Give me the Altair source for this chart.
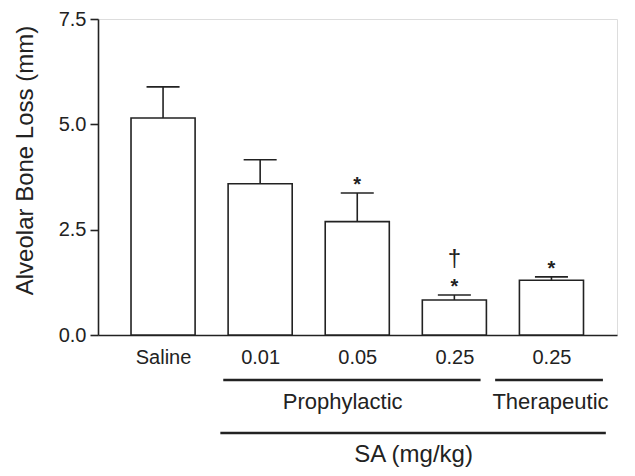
import altair as alt
import pandas as pd

groups = ["Saline", "0.01", "0.05", "0.25", "0.25 "]
positions = [0, 1, 2, 3, 4]
means = [5.15, 3.59, 2.69, 0.83, 1.30]
err_tops = [5.89, 4.16, 3.37, 0.95, 1.38]
stars = ["", "", "*", "*", "*"]
daggers = ["", "", "", "\u2020", ""]

bracket_labels = ["Prophylactic", "Therapeutic", "SA (mg/kg)"]
bracket_start = [0.62, 3.42, 0.59]
bracket_end = [3.27, 4.53, 4.56]
bracket_center = [1.85, 3.99, 2.58]
bracket_row = [1, 1, 2]

df = pd.DataFrame({"group": groups, "pos": positions, "mean": means,
                   "err": err_tops, "star": stars, "dagger": daggers})
br = pd.DataFrame({"label": bracket_labels, "start": bracket_start,
                   "end": bracket_end, "center": bracket_center, "row": bracket_row})

FONT = "Liberation Sans"
INK = "#222222"
xscale = alt.Scale(domain=[-0.67, 4.675], nice=False, zero=False)
yscale = alt.Scale(domain=[0, 7.5], nice=False)

label_expr = "['Saline','0.01','0.05','0.25','0.25'][datum.value]"

base = alt.Chart(df).transform_calculate(
    x0="datum.pos - 0.33", x1="datum.pos + 0.33",
    c0="datum.pos - 0.17", c1="datum.pos + 0.17")

bars = base.mark_bar(fill="white", stroke=INK, strokeWidth=1.6).encode(
    x=alt.X("x0:Q", scale=xscale,
            axis=alt.Axis(values=positions, labelExpr=label_expr, ticks=False,
                          grid=False, title=None, labelFontSize=20, labelFont=FONT,
                          labelColor=INK, labelPadding=12, domainColor=INK,
                          domainWidth=1.6, labelFlush=False)),
    x2="x1:Q",
    y=alt.Y("mean:Q", scale=yscale,
            axis=alt.Axis(values=[0, 2.5, 5, 7.5], format=".1f", grid=False,
                          tickSize=8, tickColor=INK, tickWidth=1.6, domainColor=INK,
                          domainWidth=1.6, labelFontSize=20, labelFont=FONT,
                          labelColor=INK, labelPadding=4,
                          title="Alveolar Bone Loss (mm)", titleFont=FONT,
                          titleFontSize=24, titleFontWeight="normal", titleColor=INK,
                          titleX=-73, titleY=141, titleAngle=-90,
                          titleBaseline="middle", titleAlign="center")),
    y2=alt.datum(0),
)

stems = base.mark_rule(color=INK, strokeWidth=1.6).encode(
    x=alt.X("pos:Q", scale=xscale), y=alt.Y("mean:Q", scale=yscale), y2="err:Q")
caps = base.mark_rule(color=INK, strokeWidth=1.6).encode(
    x=alt.X("c0:Q", scale=xscale), x2="c1:Q", y=alt.Y("err:Q", scale=yscale))

star_txt = base.mark_text(font=FONT, fontSize=20, fontWeight="bold", color=INK,
                          baseline="top", dy=-18).encode(
    x=alt.X("pos:Q", scale=xscale), y=alt.Y("err:Q", scale=yscale), text="star:N")
dag_txt = base.mark_text(font=FONT, fontSize=24, color=INK,
                         baseline="middle", dy=-36).encode(
    x=alt.X("pos:Q", scale=xscale), y=alt.Y("err:Q", scale=yscale), text="dagger:N")

bb = alt.Chart(br)
row1 = bb.transform_filter("datum.row == 1")
row2 = bb.transform_filter("datum.row == 2")
line1 = row1.mark_rule(color=INK, strokeWidth=2.6).encode(
    x=alt.X("start:Q", scale=xscale), x2="end:Q", y=alt.value(361))
line2 = row2.mark_rule(color=INK, strokeWidth=2.6).encode(
    x=alt.X("start:Q", scale=xscale), x2="end:Q", y=alt.value(414))
text1 = row1.mark_text(font=FONT, fontSize=22, color=INK, baseline="alphabetic").encode(
    x=alt.X("center:Q", scale=xscale), y=alt.value(390), text="label:N")
text2 = row2.mark_text(font=FONT, fontSize=24, color=INK, baseline="alphabetic").encode(
    x=alt.X("center:Q", scale=xscale), y=alt.value(443), text="label:N")

chart = alt.layer(bars, stems, caps, star_txt, dag_txt, line1, line2, text1, text2).properties(
    width=519, height=316,
    autosize=alt.AutoSizeParams(type="none"),
    padding={"left": 90, "top": 11, "right": 10, "bottom": 133},
).configure_view(stroke=None).configure(background="white")

chart.save("out.html", embed_options={"renderer": "svg", "actions": False})
